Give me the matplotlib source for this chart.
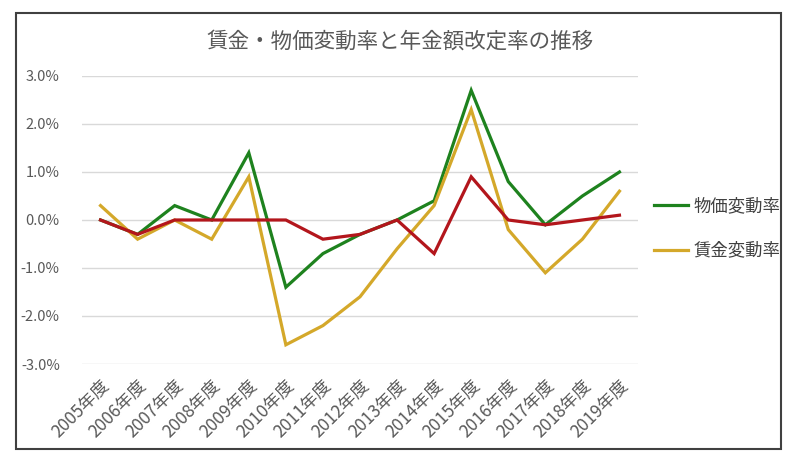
import numpy as np
import matplotlib
matplotlib.use('Agg')
from matplotlib import pyplot as plt
from matplotlib.ticker import FuncFormatter
import matplotlib.patches as patches

plt.rcParams['font.family'] = ['Noto Sans CJK JP', 'DejaVu Sans']

#---DATA---#
years = ['2005年度', '2006年度', '2007年度', '2008年度', '2009年度', '2010年度',
         '2011年度', '2012年度', '2013年度', '2014年度', '2015年度', '2016年度',
         '2017年度', '2018年度', '2019年度']
bukka = [0.0, -0.3, 0.3, 0.0, 1.4, -1.4, -0.7, -0.3, 0.0, 0.4, 2.7, 0.8, -0.1, 0.5, 1.0]
chingin = [0.3, -0.4, 0.0, -0.4, 0.9, -2.6, -2.2, -1.6, -0.6, 0.3, 2.3, -0.2, -1.1, -0.4, 0.6]
nenkin = [0.0, -0.3, 0.0, 0.0, 0.0, 0.0, -0.4, -0.3, 0.0, -0.7, 0.9, 0.0, -0.1, 0.0, 0.1]
yticks = [-3.0, -2.0, -1.0, 0.0, 1.0, 2.0, 3.0]

#---PLOT---#
fig = plt.figure(figsize=(8, 4.65), dpi=100)
ax = fig.add_axes([0.1025, 0.2172, 0.695, 0.6194])

x = np.arange(len(years))
l1, = ax.plot(x, bukka, color='#1E821E', lw=2.3, label='物価変動率', solid_joinstyle='miter')
l2, = ax.plot(x, chingin, color='#D4A82A', lw=2.3, label='賃金変動率', solid_joinstyle='miter')
ax.plot(x, nenkin, color='#B3161C', lw=2.3, solid_joinstyle='miter')

ax.set_xlim(-0.5, len(years) - 0.5)
ax.set_ylim(-3.0, 3.0)
ax.set_yticks(yticks)
ax.yaxis.set_major_formatter(FuncFormatter(lambda v, p: '%.1f%%' % v))
ax.set_xticks(x)
ax.set_xticklabels(years, rotation=45, ha='right', rotation_mode='anchor')
ax.tick_params(axis='both', length=0, colors='#595959')
ax.tick_params(axis='y', pad=16, labelsize=10.5)
ax.tick_params(axis='x', pad=9, labelsize=12.5)
ax.grid(axis='y', color='#D9D9D9', lw=1)
ax.set_axisbelow(True)
for s in ax.spines.values():
    s.set_visible(False)

ax.legend(handles=[l1, l2], loc='upper left', bbox_to_anchor=(1.0, 0.635),
          frameon=False, fontsize=12.5, labelspacing=1.55, handlelength=2.0,
          handletextpad=0.3, labelcolor='#404040')

fig.text(0.5, 0.91, '賃金・物価変動率と年金額改定率の推移', ha='center', va='center',
         fontsize=15.5, color='#595959')

# outer border
fig.patches.append(patches.Rectangle((0.02, 0.0344), 0.956, 0.9376, transform=fig.transFigure,
                                     fill=False, edgecolor='#404040', lw=1.5))

fig.savefig('out.png', dpi=100)
